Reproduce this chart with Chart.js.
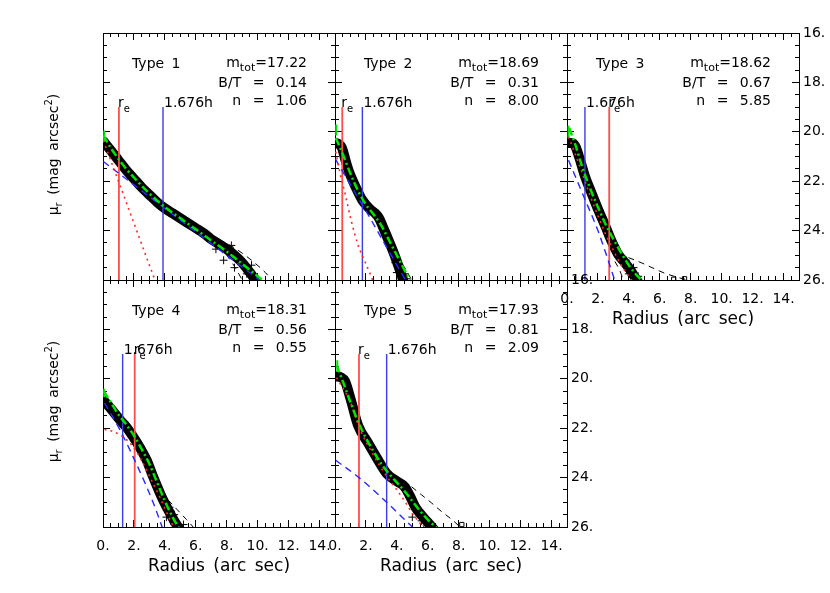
<!DOCTYPE html>
<html><head><meta charset="utf-8">
<script src="https://cdn.jsdelivr.net/npm/chart.js@4"></script>
<style>
html,body{margin:0;padding:0;background:#fff;}
#wrap{position:relative;width:830px;height:593px;overflow:hidden;}
#wrap canvas{position:absolute;left:0;top:0;}
</style>
</head><body><div id="wrap"></div>
<script>
// ---------------- DATA ----------------
const panelTypes = ['Type 1','Type 2','Type 3','Type 4','Type 5'];
const mTot = ['17.22','18.69','18.62','18.31','17.93'];
const bulgeToTotal = ['0.14','0.31','0.67','0.56','0.81'];
const sersicN = ['1.06','8.00','5.85','0.55','2.09'];
const rEff = [1.03, 0.47, 2.73, 2.05, 1.55];        // arcsec, red line
const disk1676h = [3.88, 1.77, 1.16, 1.27, 3.34];   // arcsec, blue line
const markerTop = 19;                                // mag, top of vertical lines

const xMajorTicks = [0,2,4,6,8,10,12,14];
const xTickLabels = ['0.','2.','4.','6.','8.','10.','12.','14.'];
const xMinorTicks = [0,0.5,1,1.5,2,2.5,3,3.5,4,4.5,5,5.5,6,6.5,7,7.5,8,8.5,9,9.5,10,10.5,11,11.5,12,12.5,13,13.5,14,14.5,15];
const yMajorTicks = [16,18,20,22,24,26];
const yTickLabels = ['16.','18.','20.','22.','24.','26.'];
const yMinorTicks = [16,16.5,17,17.5,18,18.5,19,19.5,20,20.5,21,21.5,22,22.5,23,23.5,24,24.5,25,25.5,26];

// Panel 1
const profile1 = [[0.05,20.4],[0.5,20.75],[1.0,21.15],[1.5,21.55],[2.0,21.9],[2.5,22.25],[3.0,22.55],[3.5,22.85],[4.0,23.1],[4.5,23.3],[5.0,23.5],[5.5,23.7],[6.0,23.9],[6.5,24.1],[7.0,24.35],[7.5,24.55],[8.0,24.75],[8.5,25.0],[9.0,25.3],[9.5,25.7],[9.9,26.05]];
const total1 = [[0.02,20.15],[0.5,20.65],[1.0,21.1],[1.5,21.5],[2.0,21.85],[3.0,22.5],[4.0,23.05],[5.0,23.5],[6.0,23.95],[7.0,24.4],[8.0,24.85],[9.0,25.35],[10.0,25.85],[10.6,26.15]];
const bulge1 = [[0.02,20.35],[1.0,22.0],[2.0,23.7],[3.0,25.4],[3.6,26.4]];
const disk1 = [[0.02,21.2],[2.0,22.15],[4.0,23.1],[6.0,24.05],[8.0,25.0],[10.0,25.95],[10.5,26.2]];
const errUp1 = [[7.5,24.35],[8.5,24.7],[9.5,25.15],[10.5,25.7],[11.0,26.05]];
const errLo1 = [[7.5,24.65],[8.0,25.0],[8.5,25.45],[9.0,26.0]];
const scatter1 = [[7.3,24.75],[7.8,25.2],[8.3,24.6],[8.5,25.5],[8.9,25.15],[9.3,25.75],[9.6,25.4]];
const centre1 = [[0.08,19.95],[0.08,20.4]];

// Panel 2
const profile2 = [[0.05,20.45],[0.25,20.5],[0.45,20.65],[0.7,21.2],[0.9,21.6],[1.2,22.05],[1.5,22.45],[1.75,22.75],[2.0,22.95],[2.3,23.15],[2.6,23.3],[2.85,23.5],[3.1,23.85],[3.4,24.3],[3.7,24.75],[4.0,25.25],[4.3,25.8],[4.45,26.1]];
const total2 = [[0.05,20.25],[0.5,20.9],[1.0,21.7],[1.5,22.4],[2.0,22.95],[2.5,23.35],[3.0,23.8],[3.5,24.4],[4.0,25.0],[4.5,25.6],[4.9,26.05]];
const bulge2 = [[0.05,20.8],[0.3,21.6],[0.65,22.5],[1.05,23.6],[1.5,24.6],[2.0,25.35],[2.5,26.1]];
const disk2 = [[0.02,21.1],[1,22.15],[2,23.2],[3,24.3],[4,25.4],[4.6,26.05]];
const errUp2 = [[3.6,24.6],[4.1,25.1],[4.6,25.6],[5.0,26.05]];
const errLo2 = [[3.6,24.9],[3.9,25.4],[4.15,26.0]];
const scatter2 = [[3.9,25.3],[4.2,25.6],[4.5,25.75],[4.0,25.7],[4.6,25.95]];
const centre2 = [[0.08,19.7],[0.08,20.15]];

// Panel 3
const profile3 = [[0.05,20.45],[0.3,20.45],[0.55,20.6],[0.8,21.05],[1.16,21.8],[1.6,22.5],[2.03,23.17],[2.5,23.85],[2.9,24.45],[3.3,24.95],[3.75,25.3],[4.1,25.6],[4.4,25.9],[4.6,26.1]];
const total3 = [[0.15,19.85],[0.5,20.45],[1.0,21.45],[1.5,22.3],[2.0,23.05],[2.5,23.75],[3.0,24.35],[3.5,24.9],[4.0,25.4],[4.5,25.8],[4.9,26.05]];
const bulge3 = [[0.1,20.2],[0.5,20.85],[1.0,21.7],[1.5,22.6],[2.0,23.4],[2.5,24.15],[3.0,24.8],[3.5,25.4],[4.0,25.85],[4.3,26.1]];
const disk3 = [[0.1,21.15],[1.0,22.5],[2.0,24.0],[2.5,24.9],[3.0,25.85],[3.2,26.2]];
const errUp3 = [[3.3,24.95],[4.0,25.1],[4.8,25.3],[5.5,25.5],[6.3,25.72],[7.2,25.9],[8.1,26.05]];
const errLo3 = [[3.1,25.25],[3.4,25.6],[3.65,26.0]];
const scatter3 = [[3.8,25.2],[4.3,25.5],[4.6,25.85],[4.0,25.75]];
const rings3 = [[6.9,25.97],[7.6,25.95]];
const centre3 = [[0.1,19.75],[0.1,20.25]];

// Panel 4
const profile4 = [[0.02,20.86],[0.5,21.2],[1.1,21.67],[1.5,21.95],[1.94,22.34],[2.4,22.8],[2.82,23.29],[3.2,23.9],[3.68,24.62],[4.0,25.05],[4.33,25.44],[4.6,25.75],[4.9,26.05]];
const total4 = [[0.05,20.5],[0.5,20.95],[1.0,21.45],[1.5,21.85],[2.0,22.3],[2.5,22.85],[3.0,23.45],[3.5,24.2],[4.0,24.95],[4.5,25.6],[5.0,26.15]];
const bulge4 = [[0.1,22.05],[0.5,22.1],[1.1,22.27],[1.5,22.45],[1.94,22.75],[2.4,23.2],[2.82,23.7],[3.25,24.25],[3.68,24.8],[4.0,25.25],[4.33,25.7],[4.6,26.05]];
const disk4 = [[0.1,20.98],[1.1,22.07],[1.94,23.15],[2.82,24.37],[3.3,25.1],[3.85,26.05]];
const errUp4 = [[4.2,24.9],[4.8,25.3],[5.4,25.7],[5.9,26.05]];
const errLo4 = [[4.0,25.3],[4.3,25.75],[4.5,26.1]];
const scatter4 = [[4.3,25.2],[4.6,25.5],[4.1,25.6],[4.8,25.85],[5.2,25.9]];
const centre4 = [[0.08,20.4],[0.08,20.75]];

// Panel 5
const profile5 = [[0.05,19.9],[0.4,19.95],[0.65,20.1],[1.0,20.8],[1.5,21.9],[2.15,22.61],[2.7,23.2],[3.34,23.83],[4.0,24.15],[4.5,24.37],[4.85,24.75],[5.2,25.2],[5.7,25.6],[6.25,25.99],[6.45,26.15]];
const total5 = [[0.1,19.44],[0.5,20.1],[1.0,20.95],[1.5,21.75],[2.0,22.4],[2.5,22.95],[3.0,23.45],[3.5,23.85],[4.0,24.2],[4.5,24.55],[5.0,24.95],[5.5,25.35],[6.0,25.7],[6.5,26.0],[6.9,26.25]];
const bulge5 = [[0.1,19.95],[1.0,20.95],[1.55,21.95],[2.5,23.1],[3.34,23.95],[4.0,24.5],[4.5,24.95],[5.0,25.45],[5.5,25.85],[5.8,26.1]];
const disk5 = [[0.05,23.3],[1.55,24.0],[3.34,25.0],[5.0,26.0]];
const errUp5 = [[4.95,24.37],[5.6,24.7],[6.25,25.03],[6.9,25.38],[7.6,25.72],[8.0,25.95]];
const errLo5 = [[4.95,25.18],[5.4,25.6],[5.8,26.05]];
const scatter5 = [[5.3,25.4],[5.6,25.75],[5.0,25.6],[6.0,25.9]];
const rings5 = [[8.2,25.9]];
const centre5 = [[0.15,19.25],[0.15,19.7]];

// ---------------- LAYOUT ----------------
const W = 830, H = 593;
const panelBoxes = [[103,33,335,280],[335,33,567,280],[567,33,799,280],[103,280,335,527],[335,280,567,527]];
const showXLabels = [false,false,true,true,true];
const showYLabels = [false,false,true,false,true];
const showYTitle = [true,false,false,true,false];
const FONT = "'DejaVu Sans', 'Liberation Sans', sans-serif";

const panels = [
  {profile:profile1,total:total1,bulge:bulge1,disk:disk1,errUp:errUp1,errLo:errLo1,scatter:scatter1,rings:[],centre:centre1},
  {profile:profile2,total:total2,bulge:bulge2,disk:disk2,errUp:errUp2,errLo:errLo2,scatter:scatter2,rings:[],centre:centre2},
  {profile:profile3,total:total3,bulge:bulge3,disk:disk3,errUp:errUp3,errLo:errLo3,scatter:scatter3,rings:rings3,centre:centre3},
  {profile:profile4,total:total4,bulge:bulge4,disk:disk4,errUp:errUp4,errLo:errLo4,scatter:scatter4,rings:[],centre:centre4},
  {profile:profile5,total:total5,bulge:bulge5,disk:disk5,errUp:errUp5,errLo:errLo5,scatter:scatter5,rings:rings5,centre:centre5}
];

const pts = a => a.map(p => ({x:p[0], y:p[1]}));

function richText(ctx, parts, x, y, align, size, subScale) {
  const sc = subScale || 0.7;
  const items = parts.map(([t,k]) => {
    const s = k ? Math.round(size*sc) : size;
    ctx.font = s + 'px ' + FONT;
    return {t, k, s, w: ctx.measureText(t).width};
  });
  const total = items.reduce((a,b)=>a+b.w,0);
  let cx = align === 'right' ? x - total : (align === 'center' ? x - total/2 : x);
  ctx.textAlign = 'left';
  ctx.textBaseline = 'alphabetic';
  for (const it of items) {
    ctx.font = it.s + 'px ' + FONT;
    const dy = it.k === 1 ? size*0.32 : (it.k === 2 ? -size*0.45 : 0);
    ctx.fillText(it.t, cx, y + dy);
    cx += it.w;
  }
}

const textPlugin = {
  id: 'panelText',
  beforeDraw(chart) { try { chart.ctx.wordSpacing = '3px'; } catch(e) {} },
  afterDraw(chart) {
    const i = chart.options.plugins.panelText.index;
    const ctx = chart.ctx;
    const xs = chart.scales.xb, ys = chart.scales.yl;
    const L = chart.chartArea.left, T = chart.chartArea.top, B = chart.chartArea.bottom;
    ctx.save();
    ctx.fillStyle = '#000';
    try { ctx.wordSpacing = '3px'; } catch(e) {}
    richText(ctx, [[panelTypes[i],0]], L + 29, T + 35, 'left', 14);
    try { ctx.wordSpacing = '7px'; } catch(e) {}
    richText(ctx, [['m',0],['tot',1],['=' + mTot[i],0]], L + 204, T + 34, 'right', 14, 0.8);
    richText(ctx, [['B/T = ' + bulgeToTotal[i],0]], L + 204, T + 53.5, 'right', 14);
    richText(ctx, [['n = ' + sersicN[i],0]], L + 204, T + 72, 'right', 14);
    try { ctx.wordSpacing = '3px'; } catch(e) {}
    const yTop = ys.getPixelForValue(markerTop);
    richText(ctx, [['r',0],['e',1]], xs.getPixelForValue(rEff[i]) - 1, yTop, 'left', 14);
    richText(ctx, [['1.676h',0]], xs.getPixelForValue(disk1676h[i]) + 1, yTop, 'left', 14);
    if (showYTitle[i]) {
      ctx.save();
      ctx.translate(53, (T + B) / 2 - 2);
      ctx.rotate(-Math.PI/2);
      richText(ctx, [['\u03bc',0],['r',1],[' (mag arcsec',0],['2',2],[')',0]], 0, 5, 'center', 14);
      ctx.restore();
    }
    ctx.restore();
  }
};

const wrap = document.getElementById('wrap');

function makePanel(i) {
  const [L,T,R,B] = panelBoxes[i];
  const P = panels[i];
  const cv = document.createElement('canvas');
  cv.width = W; cv.height = H;
  wrap.appendChild(cv);
  const border = {display:true, color:'#000', width:1};
  const gMaj = {drawOnChartArea:false, drawTicks:true, tickLength:-7, color:'#000', lineWidth:1};
  const gMin = {drawOnChartArea:false, drawTicks:true, tickLength:-4, color:'#000', lineWidth:1};
  const setTicks = arr => s => { s.ticks = arr.map(v => ({value:v})); };
  const xBase = {type:'linear', min:0, max:15, border};
  const yBase = {type:'linear', min:16, max:26, reverse:true, border};
  const noLab = {display:false};
  const tickFont = {family:FONT, size:14};
  const titleFont = {family:FONT, size:17};
  const scales = {
    xb: {...xBase, position:'bottom', weight:1, grid:gMaj, afterBuildTicks:setTicks(xMajorTicks),
         afterFit: s => { s.height = H - B; },
         ticks:{display:showXLabels[i], autoSkip:false, maxRotation:0, padding:18, color:'#000', font:tickFont,
                callback:(v,idx)=> xTickLabels[idx]},
         title:{display:showXLabels[i], text:'Radius (arc sec)', color:'#000', font:titleFont,
                padding:{top:0, bottom:(H - B) - 40 - 17*1.2/2}}},
    xbm:{...xBase, position:'bottom', weight:0, grid:gMin, afterBuildTicks:setTicks(xMinorTicks),
         afterFit: s => { s.height = 0; }, ticks:noLab},
    xt: {...xBase, position:'top', weight:1, grid:gMaj, afterBuildTicks:setTicks(xMajorTicks),
         afterFit: s => { s.height = T; }, ticks:noLab},
    xtm:{...xBase, position:'top', weight:0, grid:gMin, afterBuildTicks:setTicks(xMinorTicks),
         afterFit: s => { s.height = 0; }, ticks:noLab},
    yl: {...yBase, position:'left', weight:1, grid:gMaj, afterBuildTicks:setTicks(yMajorTicks),
         afterFit: s => { s.width = L; }, ticks:noLab},
    ylm:{...yBase, position:'left', weight:0, grid:gMin, afterBuildTicks:setTicks(yMinorTicks),
         afterFit: s => { s.width = 0; }, ticks:noLab},
    yr: {...yBase, position:'right', weight:1, grid:gMaj, afterBuildTicks:setTicks(yMajorTicks),
         afterFit: s => { s.width = W - R; },
         ticks:{display:showYLabels[i], autoSkip:false, padding:11, color:'#000', font:tickFont,
                callback:(v,idx)=> yTickLabels[idx]}},
    yrm:{...yBase, position:'right', weight:0, grid:gMin, afterBuildTicks:setTicks(yMinorTicks),
         afterFit: s => { s.width = 0; }, ticks:noLab}
  };
  const common = {xAxisID:'xb', yAxisID:'yl', pointRadius:0, clip:0, fill:false};
  const datasets = [
    {...common, data:pts(P.total), borderColor:'#00e600', borderWidth:2.5, borderDash:[8,3,2,3], tension:0.35, cubicInterpolationMode:'monotone'},
    {...common, data:pts(P.bulge), borderColor:'#ff2a2a', borderWidth:1.6, borderDash:[2,4], tension:0.35, cubicInterpolationMode:'monotone'},
    {...common, data:pts(P.disk), borderColor:'#2828ff', borderWidth:1.4, borderDash:[7,5], tension:0.3, cubicInterpolationMode:'monotone'},
    {...common, data:pts(P.centre), borderColor:'#00e600', borderWidth:2},
    {...common, data:[{x:rEff[i],y:markerTop},{x:rEff[i],y:26}], borderColor:'#ff4c4c', borderWidth:1.8},
    {...common, data:[{x:disk1676h[i],y:markerTop},{x:disk1676h[i],y:26}], borderColor:'#3c3ce6', borderWidth:1.4},
    {...common, data:pts(P.errUp), borderColor:'#000', borderWidth:1, borderDash:[6,5], tension:0.3, cubicInterpolationMode:'monotone'},
    {...common, data:pts(P.errLo), borderColor:'#000', borderWidth:1, borderDash:[6,5], tension:0.3, cubicInterpolationMode:'monotone'},
    {...common, type:'scatter', data:pts(P.scatter), showLine:false, pointStyle:'cross', pointRadius:4, borderColor:'#000', borderWidth:1},
    {...common, type:'scatter', data:pts(P.rings), showLine:false, pointStyle:'rect', pointRadius:3, borderColor:'#000', borderWidth:1, backgroundColor:'rgba(0,0,0,0)'},
    {...common, data:pts(P.profile), borderColor:'#000', borderWidth:10, borderCapStyle:'round', borderJoinStyle:'round', tension:0.35, cubicInterpolationMode:'monotone'}
  ];
  new Chart(cv, {
    type:'line',
    data:{datasets},
    options:{
      responsive:false, animation:false, events:[],
      layout:{padding:0},
      plugins:{legend:{display:false}, tooltip:{enabled:false}, panelText:{index:i}},
      scales
    },
    plugins:[textPlugin]
  });
}
for (let i = 0; i < 5; i++) makePanel(i);
</script>
</body></html>
